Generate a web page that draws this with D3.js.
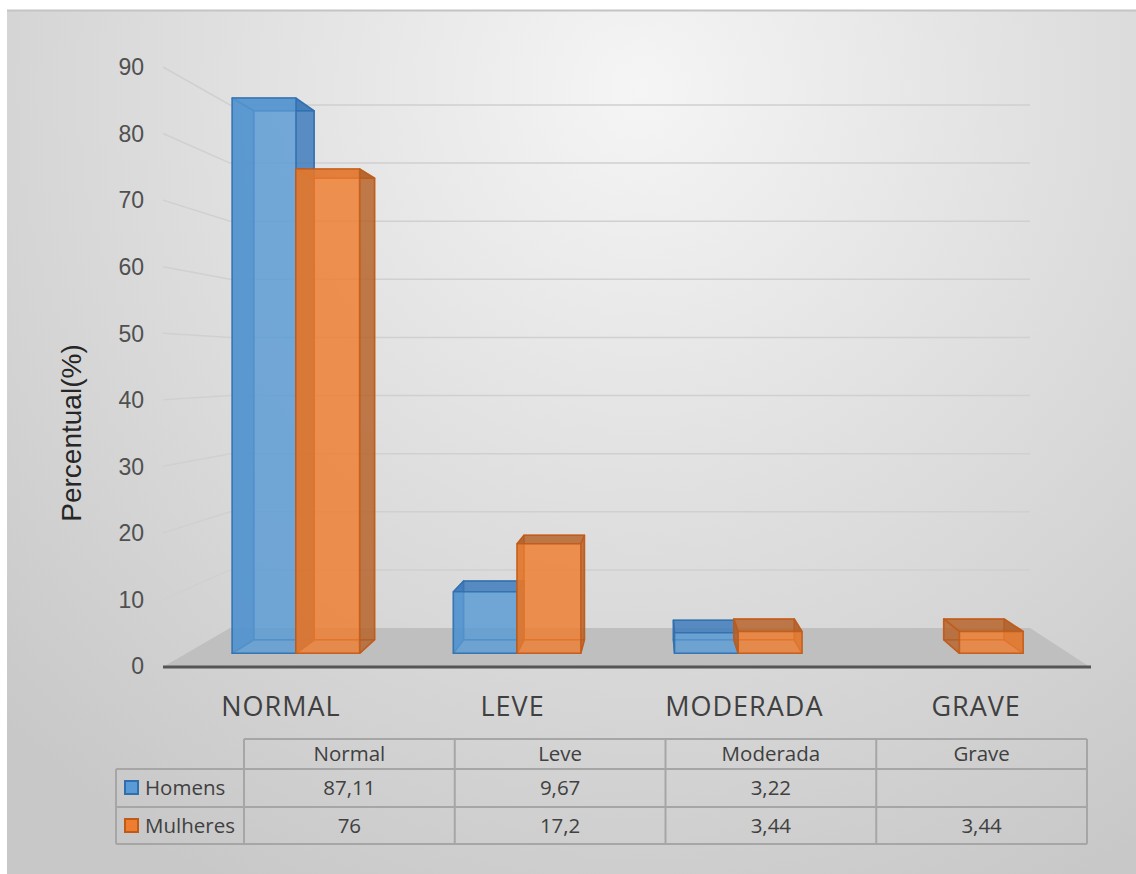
<!DOCTYPE html>
<html>
<head>
<meta charset="utf-8">
<script src="https://cdn.jsdelivr.net/npm/d3@7/dist/d3.min.js"></script>
<style>
  html, body { margin: 0; padding: 0; background: #ffffff; }
  svg { display: block; }
</style>
</head>
<body>
<svg id="chart" width="1136" height="874"></svg>
<script>
// ---------- data ----------
const categories = ["NORMAL", "LEVE", "MODERADA", "GRAVE"];
const tableHeaders = ["Normal", "Leve", "Moderada", "Grave"];
const seriesNames = ["Homens", "Mulheres"];
const homens = [87.11, 9.67, 3.22, null];
const mulheres = [76, 17.2, 3.44, 3.44];
const yTicks = [0, 10, 20, 30, 40, 50, 60, 70, 80, 90];
const yTitle = "Percentual(%)";

const seriesValues = [homens, mulheres];
const seriesColors = [
  { base: "#5b9bd5", dark: "#2f6fae", side: "#3a77b8" },
  { base: "#ed7d31", dark: "#c25a17", side: "#b0602a" }
];

// ---------- layout ----------
const svg = d3.select("#chart");
const W = 1136, H = 874;

const defs = svg.append("defs");
const grad = defs.append("radialGradient")
  .attr("id", "bg").attr("gradientUnits", "userSpaceOnUse")
  .attr("cx", 640).attr("cy", 90).attr("r", 900);
grad.append("stop").attr("offset", "0%").attr("stop-color", "#f5f5f5");
grad.append("stop").attr("offset", "50%").attr("stop-color", "#dedede");
grad.append("stop").attr("offset", "100%").attr("stop-color", "#c8c8c8");

svg.append("rect").attr("x", 7).attr("y", 10).attr("width", W - 7).attr("height", H - 10)
  .attr("fill", "url(#bg)");
svg.append("line").attr("x1", 7).attr("x2", W).attr("y1", 10.5).attr("y2", 10.5)
  .attr("stroke", "#c4c4c4").attr("stroke-width", 2);

// scales: front plane and back wall plane
const yFront = d3.scaleLinear().domain([0, 90]).range([666, 67]);
const yBack = d3.scaleLinear().domain([0, 90]).range([628, 105]);
const xFront = d3.scaleBand().domain(categories).range([163, 1090]);
const xBack = d3.scaleBand().domain(categories).range([230, 1030]);
const xInner = d3.scaleBand().domain(seriesNames).range([0.212, 0.788]);

const zFrontBar = 0.333, zBackBar = 0.69;
const lerp = (a, b, t) => a + (b - a) * t;

function proj(cat, frac, v, z) {
  const xf = xFront(cat) + frac * xFront.bandwidth();
  const xb = xBack(cat) + frac * xBack.bandwidth();
  return [lerp(xf, xb, z), lerp(yFront(v), yBack(v), z)];
}

// ---------- gridlines ----------
const gridG = svg.append("g");
yTicks.filter(t => t > 0).forEach(t => {
  gridG.append("path")
    .attr("d", `M163,${yFront(t)} L${xBack.range()[0]},${yBack(t)} L${xBack.range()[1]},${yBack(t)}`)
    .attr("fill", "none").attr("stroke", "#d0d0d0").attr("stroke-width", 1.5);
});

// y tick labels
svg.append("g").selectAll("text").data(yTicks).join("text")
  .attr("x", 144).attr("y", d => yFront(d)).attr("dy", "0.36em")
  .attr("text-anchor", "end")
  .attr("font-family", "'Liberation Sans', Arial, sans-serif")
  .attr("font-size", 23).attr("fill", "#505050")
  .text(d => d);

// y title
svg.append("text")
  .attr("transform", "translate(81,433) rotate(-90)")
  .attr("text-anchor", "middle")
  .attr("font-family", "'Liberation Sans', Arial, sans-serif")
  .attr("font-size", 28).attr("fill", "#262626")
  .text(yTitle);

// ---------- floor ----------
const fr = xFront.range(), br = xBack.range();
svg.append("path")
  .attr("d", `M${fr[0]},${yFront(0) + 1} L${fr[1]},${yFront(0) + 1} L${br[1]},${yBack(0)} L${br[0]},${yBack(0)} Z`)
  .attr("fill", "#bfbfbf");
svg.append("line")
  .attr("x1", fr[0]).attr("x2", fr[1] + 1).attr("y1", yFront(0) + 1).attr("y2", yFront(0) + 1)
  .attr("stroke", "#555555").attr("stroke-width", 3);

// ---------- bars ----------
const barsG = svg.append("g");
const pts = arr => arr.map(p => p.join(",")).join(" ");

categories.forEach((cat, ci) => {
  seriesNames.forEach((s, si) => {
    const v = seriesValues[si][ci];
    if (v == null) return;
    const c = seriesColors[si];
    const f0 = xInner(s), f1 = xInner(s) + xInner.bandwidth();
    const fbl = proj(cat, f0, 0, zFrontBar), fbr = proj(cat, f1, 0, zFrontBar);
    const ftl = proj(cat, f0, v, zFrontBar), ftr = proj(cat, f1, v, zFrontBar);
    const bbl = proj(cat, f0, 0, zBackBar), bbr = proj(cat, f1, 0, zBackBar);
    const btl = proj(cat, f0, v, zBackBar), btr = proj(cat, f1, v, zBackBar);
    const faces = [
      { p: [bbl, bbr, btr, btl], fill: c.base, op: 0.35 },
      { p: [fbl, fbr, bbr, bbl], fill: c.base, op: 0.25 },
      { p: [fbl, bbl, btl, ftl], fill: c.side, op: 0.75 },
      { p: [fbr, bbr, btr, ftr], fill: c.side, op: 0.75 },
      { p: [ftl, ftr, btr, btl], fill: c.side, op: 0.75 },
      { p: [fbl, fbr, ftr, ftl], fill: c.base, op: 0.74 }
    ];
    const g = barsG.append("g");
    faces.forEach(fc => {
      g.append("polygon").attr("points", pts(fc.p))
        .attr("fill", fc.fill).attr("fill-opacity", fc.op)
        .attr("stroke", c.dark).attr("stroke-opacity", 0.75)
        .attr("stroke-width", 1.5).attr("stroke-linejoin", "round");
    });
  });
});

// category labels
svg.append("g").selectAll("text").data(categories).join("text")
  .attr("x", d => xFront(d) + xFront.bandwidth() / 2 + 2).attr("y", 716)
  .attr("text-anchor", "middle")
  .attr("font-family", "'Open Sans', sans-serif")
  .attr("font-size", 27).attr("letter-spacing", 1).attr("fill", "#404040")
  .text(d => d);

// ---------- data table ----------
const colX = d3.scaleBand().domain(tableHeaders).range([244, 1087]);
const rowTops = [739, 769, 807, 844];
const legendX0 = 116;
const tableG = svg.append("g");
const lineStyle = sel => sel.attr("stroke", "#a6a6a6").attr("stroke-width", 2);

// horizontal lines
tableG.append("line").attr("x1", 244).attr("x2", 1087).attr("y1", rowTops[0]).attr("y2", rowTops[0]).call(lineStyle);
[1, 2, 3].forEach(i => tableG.append("line").attr("x1", legendX0).attr("x2", 1087)
  .attr("y1", rowTops[i]).attr("y2", rowTops[i]).call(lineStyle));
// vertical lines
tableG.append("line").attr("x1", legendX0).attr("x2", legendX0).attr("y1", rowTops[1]).attr("y2", rowTops[3]).call(lineStyle);
tableHeaders.forEach(h => tableG.append("line").attr("x1", colX(h)).attr("x2", colX(h))
  .attr("y1", rowTops[0]).attr("y2", rowTops[3]).call(lineStyle));
tableG.append("line").attr("x1", 1087).attr("x2", 1087).attr("y1", rowTops[0]).attr("y2", rowTops[3]).call(lineStyle);

const tFont = sel => sel.attr("font-family", "'Open Sans', sans-serif").attr("font-size", 20.5).attr("fill", "#404040");

// header
tableG.selectAll("text.h").data(tableHeaders).join("text").attr("class", "h")
  .attr("x", d => colX(d) + colX.bandwidth() / 2).attr("y", 761)
  .attr("text-anchor", "middle").call(tFont).text(d => d);

const rowBaselines = [795, 833];
const fmt = v => v == null ? "" : String(v).replace(".", ",");
seriesNames.forEach((s, si) => {
  const c = seriesColors[si];
  tableG.append("rect").attr("x", 125).attr("y", rowBaselines[si] - 14).attr("width", 13).attr("height", 13)
    .attr("fill", c.base).attr("stroke", c.dark).attr("stroke-width", 2);
  tableG.append("text").attr("x", 145).attr("y", rowBaselines[si]).call(tFont).text(s);
  tableG.selectAll(null).data(seriesValues[si]).join("text")
    .attr("x", (d, i) => colX(tableHeaders[i]) + colX.bandwidth() / 2)
    .attr("y", rowBaselines[si]).attr("text-anchor", "middle").call(tFont)
    .text(d => fmt(d));
});
</script>
</body>
</html>
